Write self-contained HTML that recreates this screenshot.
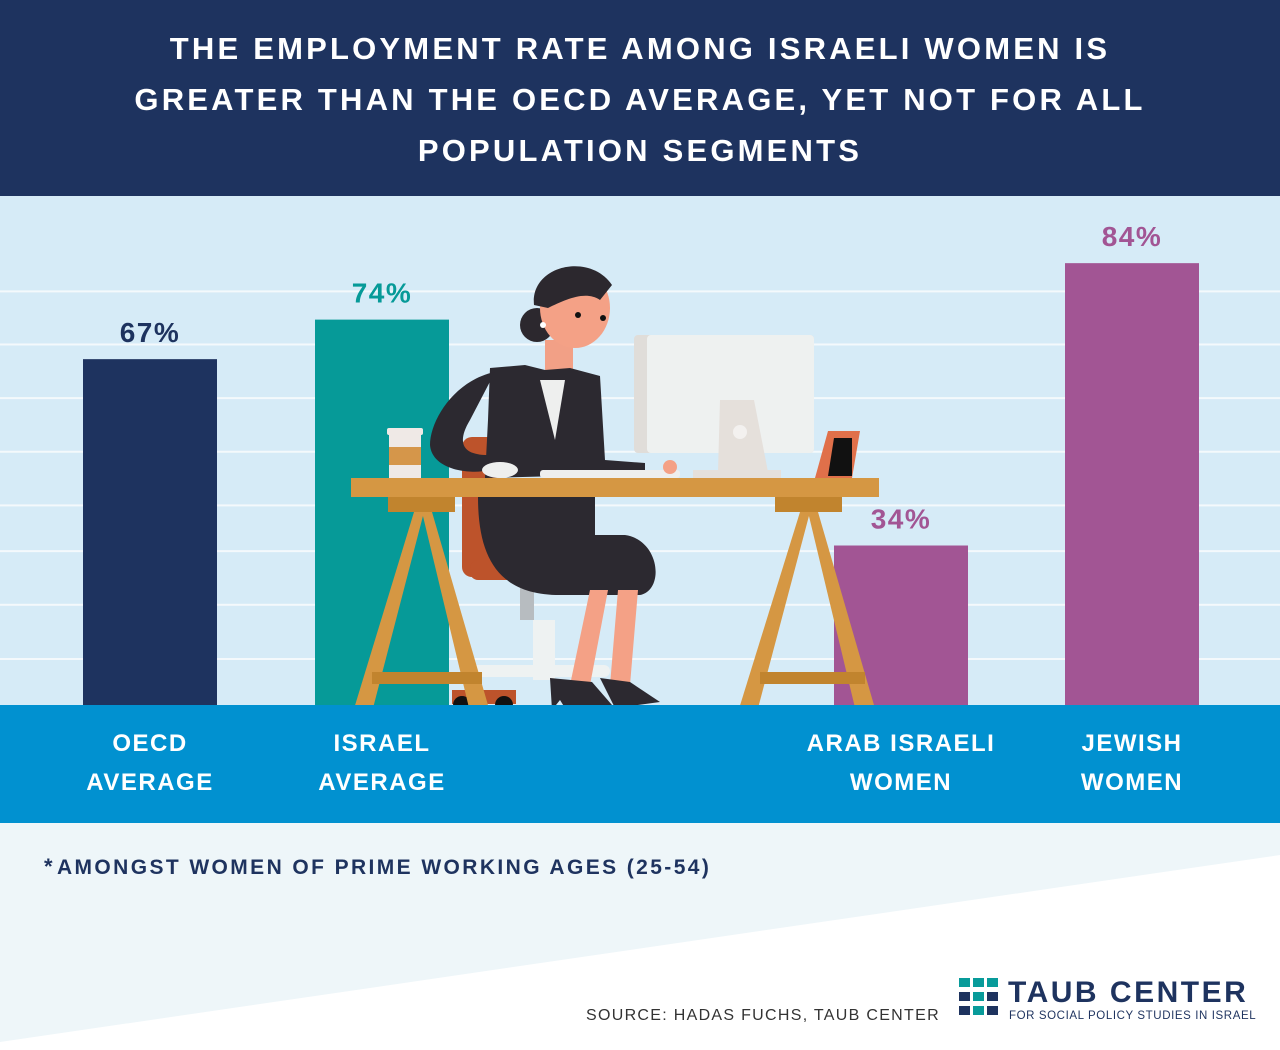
<!DOCTYPE html>
<html><head><meta charset="utf-8">
<style>
html,body{margin:0;padding:0;}
body{width:1280px;height:1050px;position:relative;overflow:hidden;font-family:"Liberation Sans",sans-serif;background:#fff;}
#hdr{position:absolute;left:0;top:0;width:1280px;height:196px;background:#1e335f;color:#fff;text-align:center;font-weight:bold;font-size:31px;letter-spacing:3.2px;line-height:51px;padding-top:23px;box-sizing:border-box;}
svg{position:absolute;left:0;top:0;}
</style></head><body>
<div id="hdr">THE EMPLOYMENT RATE AMONG ISRAELI WOMEN IS<br>GREATER THAN THE OECD AVERAGE, YET NOT FOR ALL<br>POPULATION SEGMENTS</div>
<svg id="chart" width="1280" height="1050">
  <rect x="0" y="196" width="1280" height="509" fill="#d6ebf7"/>
  <g id="grid"></g>
  <g id="bars"></g>
  <g id="illus">
    <rect x="462" y="437" width="35" height="140" rx="10" fill="#bd532b"/>
    <rect x="470" y="560" width="160" height="20" rx="8" fill="#bd532b"/>
    <rect x="520" y="580" width="14" height="40" fill="#b7bcc0"/>
    <rect x="533" y="620" width="22" height="60" fill="#eef2f2"/>
    <rect x="470" y="665" width="140" height="12" rx="6" fill="#eef2f2"/>
    <rect x="452" y="690" width="64" height="14" fill="#bd532b"/>
    <circle cx="462" cy="705" r="9" fill="#111"/><circle cx="504" cy="705" r="9" fill="#111"/>
    <rect x="634" y="335" width="180" height="118" rx="4" fill="#e0ddd9"/>
    <rect x="647" y="335" width="167" height="118" rx="4" fill="#eef1f0"/>
    <polygon points="720,400 754,400 768,472 718,472" fill="#e5e0db"/>
    <circle cx="740" cy="432" r="7" fill="#f3f1ef"/>
    <rect x="693" y="470" width="88" height="8" fill="#e5e0db"/>
    <polygon points="828,431 860,431 852,478 815,478" fill="#e0704a"/>
    <polygon points="834,438 852,438 852,476 828,476" fill="#111"/>
    <rect x="389" y="432" width="32" height="46" fill="#efe9e6"/>
    <rect x="389" y="447" width="32" height="18" fill="#d5964a"/>
    <rect x="387" y="428" width="36" height="7" rx="2" fill="#efe9e6"/>
    <circle cx="537" cy="325" r="17" fill="#2c282e"/>
    <rect x="545" y="340" width="28" height="40" fill="#f2a086"/>
    <ellipse cx="575" cy="308" rx="35" ry="40" fill="#f4a186"/>
    <path d="M534,305 C530,265 590,252 612,285 L600,300 C585,290 565,300 548,308 Z" fill="#2c282e"/>
    <circle cx="578" cy="315" r="3" fill="#111"/><circle cx="603" cy="318" r="3" fill="#111"/>
    <circle cx="543" cy="325" r="3" fill="#fff"/>
    <polygon points="490,368 525,365 545,370 570,368 600,376 605,460 645,463 645,472 600,475 485,478 488,420" fill="#2c2930"/>
    <polygon points="540,380 565,380 555,440" fill="#eeefee"/>
    <path d="M495,372 C455,380 430,420 430,445 C432,470 470,475 490,470 L488,455 C465,455 455,445 470,420 Z" fill="#2c2930"/>
    <ellipse cx="500" cy="470" rx="18" ry="8" fill="#eeefee"/>
    <rect x="540" y="470" width="140" height="8" rx="3" fill="#eeefee"/>
    <circle cx="670" cy="467" r="7" fill="#f4a186"/>
    <path d="M478,497 L595,497 L595,535 L625,535 C660,540 665,590 640,595 L560,595 C500,595 478,560 478,497 Z" fill="#2c2930"/>
    <polygon points="590,590 608,590 590,685 570,685" fill="#f4a186"/>
    <polygon points="618,590 638,590 630,685 610,685" fill="#f4a186"/>
    <path d="M550,678 L592,682 L612,705 L565,708 L560,700 L552,710 Z" fill="#2c2930"/>
    <path d="M600,678 L630,682 L660,702 L615,708 Z" fill="#2c2930"/>
    <rect x="351" y="478" width="528" height="19" fill="#d59743"/>
    <rect x="388" y="497" width="67" height="15" fill="#c1842e"/>
    <rect x="775" y="497" width="67" height="15" fill="#c1842e"/>
    <polygon points="414,512 424,512 372,712 353,712" fill="#d59743"/>
    <polygon points="422,512 432,512 490,712 470,712" fill="#d59743"/>
    <rect x="372" y="672" width="110" height="12" fill="#c1842e"/>
    <polygon points="800,512 810,512 757,712 738,712" fill="#d59743"/>
    <polygon points="808,512 818,512 876,712 856,712" fill="#d59743"/>
    <rect x="760" y="672" width="105" height="12" fill="#c1842e"/>
  </g>
  <rect x="0" y="705" width="1280" height="118" fill="#0191d0"/>
  <g id="cats"></g>
  <polygon points="0,823 1280,823 1280,855 0,1042" fill="#eef6f9"/>
  <text x="44" y="874" font-size="22" font-weight="bold" fill="#1e335f" letter-spacing="2.4">*<tspan font-size="21" dx="2">AMONGST WOMEN OF PRIME WORKING AGES (25-54)</tspan></text>
  <text x="586" y="1020" font-size="16" fill="#333" letter-spacing="1.3">SOURCE: HADAS FUCHS, TAUB CENTER</text>
  <g>
    <rect x="959" y="978" width="11" height="9" fill="#089b9a"/><rect x="973" y="978" width="11" height="9" fill="#089b9a"/><rect x="987" y="978" width="11" height="9" fill="#089b9a"/>
    <rect x="959" y="992" width="11" height="9" fill="#1e335f"/><rect x="973" y="992" width="11" height="9" fill="#089b9a"/><rect x="987" y="992" width="11" height="9" fill="#1e335f"/>
    <rect x="959" y="1006" width="11" height="9" fill="#1e335f"/><rect x="973" y="1006" width="11" height="9" fill="#089b9a"/><rect x="987" y="1006" width="11" height="9" fill="#1e335f"/>
    <text x="1008" y="1002" font-size="30" font-weight="bold" fill="#1e335f" letter-spacing="2.5">TAUB CENTER</text>
    <text x="1009" y="1019" font-size="11.5" fill="#1e335f" letter-spacing="0.6">FOR SOCIAL POLICY STUDIES IN ISRAEL</text>
  </g>
</svg>
<script>
const categories = ["OECD AVERAGE","ISRAEL AVERAGE","ARAB ISRAELI WOMEN","JEWISH WOMEN"];
const catLine1 = ["OECD","ISRAEL","ARAB ISRAELI","JEWISH"];
const catLine2 = ["AVERAGE","AVERAGE","WOMEN","WOMEN"];
const values = [67, 74, 34, 84];
const valueLabels = ["67%","74%","34%","84%"];
const barColors = ["#1e335f","#069a98","#a25594","#a25594"];
const gridValues = [79, 69.6, 60.1, 50.6, 41.1, 33, 23.5, 13.9];
const NS="http://www.w3.org/2000/svg";
const baseY=705;
function yScale(v){return 737.5 - v*5.647;}
const slotX=[150,382,901,1132];
function xScale(i){return slotX[i];}
const barW=134;
const grid=document.getElementById('grid');
gridValues.forEach(g=>{
  const l=document.createElementNS(NS,'rect');
  l.setAttribute('x',0);l.setAttribute('y',yScale(g)-1);l.setAttribute('width',1280);l.setAttribute('height',2);l.setAttribute('fill','#f4f9fc');
  
  
  grid.appendChild(l);
});
const bars=document.getElementById('bars');
values.forEach((v,i)=>{
  const r=document.createElementNS(NS,'rect');
  r.setAttribute('x',xScale(i)-barW/2);r.setAttribute('y',yScale(v));r.setAttribute('width',barW);r.setAttribute('height',baseY-yScale(v));r.setAttribute('fill',barColors[i]);
  
  
  bars.appendChild(r);
  const t=document.createElementNS(NS,'text');
  t.setAttribute('x',xScale(i));t.setAttribute('y',yScale(v)-17);t.setAttribute('text-anchor','middle');t.setAttribute('font-size','28');t.setAttribute('font-weight','bold');t.setAttribute('fill',barColors[i]);t.setAttribute('letter-spacing','1.5');
  t.textContent=valueLabels[i];
  
  
  bars.appendChild(t);
});
const cats=document.getElementById('cats');
categories.forEach((c,i)=>{
  [catLine1[i],catLine2[i]].forEach((s,k)=>{
    const t=document.createElementNS(NS,'text');
    t.setAttribute('x',xScale(i));t.setAttribute('y',751+k*39);t.setAttribute('text-anchor','middle');t.setAttribute('font-size','24');t.setAttribute('font-weight','bold');t.setAttribute('fill','#fff');t.setAttribute('letter-spacing','1.5');
    t.textContent=s;
    
    
    cats.appendChild(t);
  });
});
</script>
</body></html>
